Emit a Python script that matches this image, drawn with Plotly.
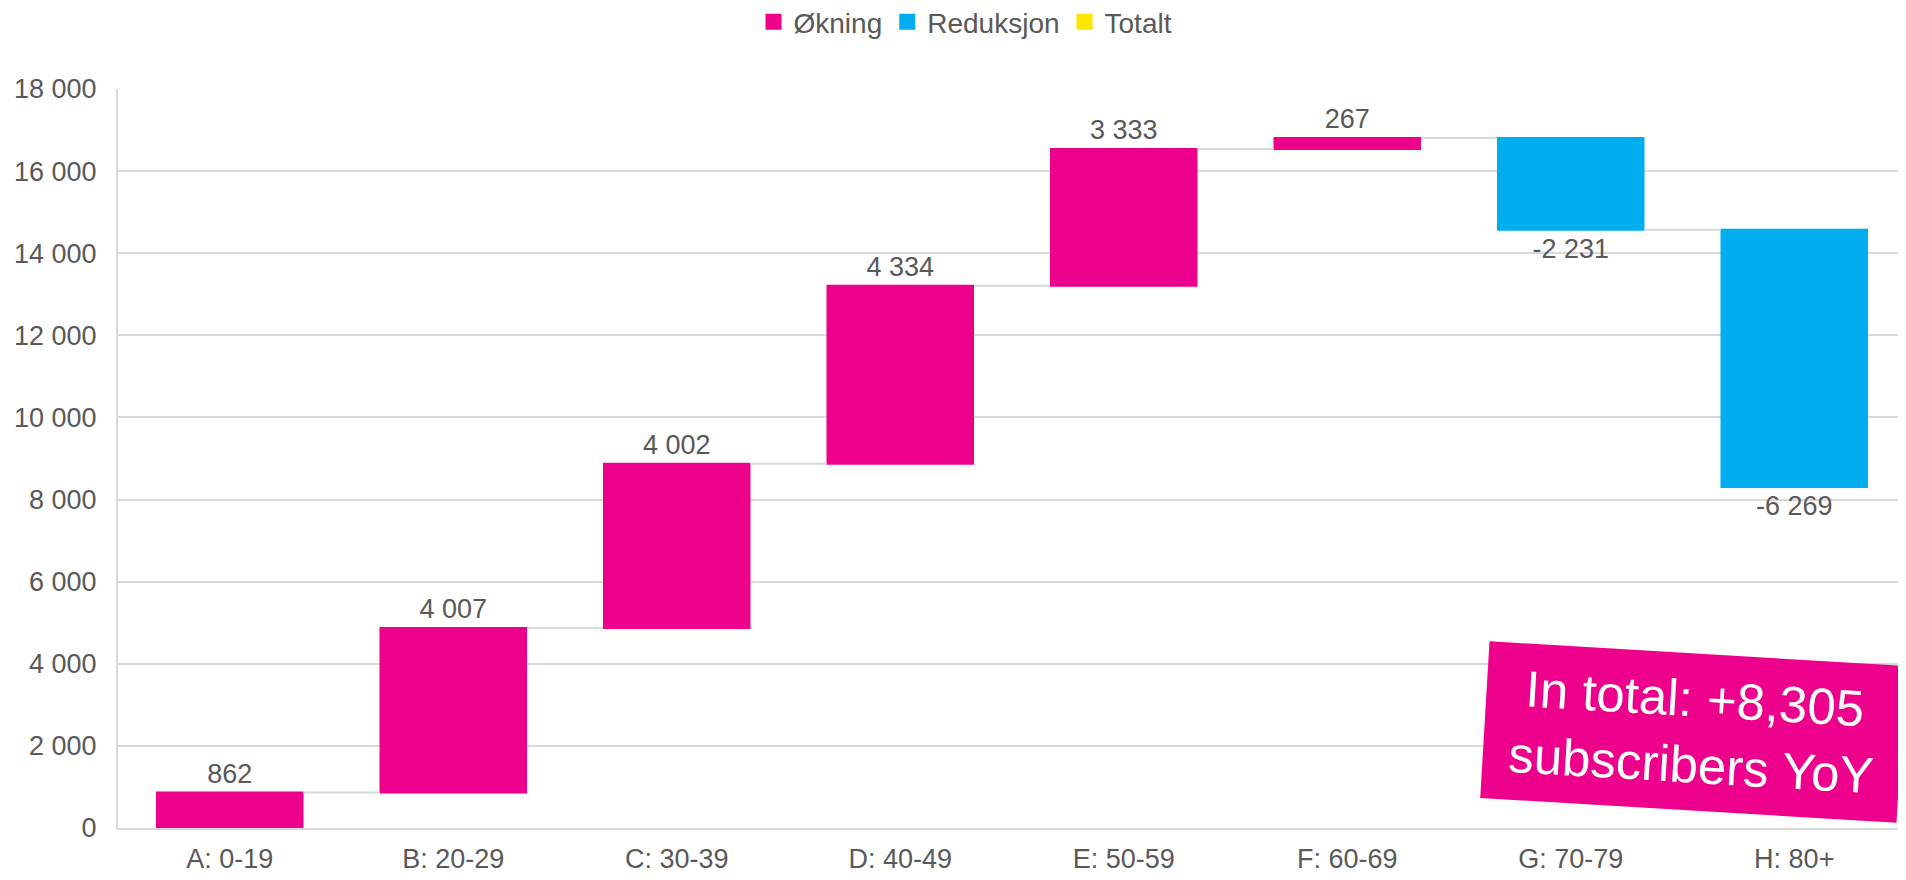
import plotly.graph_objects as go

# age groups and year-over-year change in subscribers
categories = ["A: 0-19", "B: 20-29", "C: 30-39", "D: 40-49",
              "E: 50-59", "F: 60-69", "G: 70-79", "H: 80+"]
changes = [862, 4007, 4002, 4334, 3333, 267, -2231, -6269]

legend_names = ["Økning", "Reduksjon", "Totalt"]
y_ticks = [0, 2000, 4000, 6000, 8000, 10000, 12000, 14000, 16000, 18000]
total_note = "In total: +8,305<br>subscribers YoY"

PINK = "#EC008C"
CYAN = "#00AEEF"
YELLOW = "#FFE600"
GRID = "#D9D9D9"
TEXT = "#595959"
FONT = "Liberation Sans, Arial, sans-serif"

labels = [f"{v:,}".replace(",", " ") for v in changes]

fig = go.Figure()
fig.add_trace(go.Waterfall(
    x=categories,
    y=changes,
    measure=["relative"] * len(changes),
    text=labels,
    textposition="outside",
    textfont=dict(size=27, color=TEXT, family=FONT),
    increasing=dict(marker=dict(color=PINK)),
    decreasing=dict(marker=dict(color=CYAN)),
    totals=dict(marker=dict(color=YELLOW)),
    connector=dict(mode="between", line=dict(color=GRID, width=2)),
    showlegend=False,
    cliponaxis=False,
))

# legend entries only
for name, col in zip(legend_names, [PINK, CYAN, YELLOW]):
    fig.add_trace(go.Scatter(
        x=[None], y=[None], mode="markers", name=name,
        marker=dict(symbol="square", size=20, color=col),
    ))

fig.add_annotation(
    text=total_note,
    xref="paper", yref="paper", x=0.881, y=0.13,
    xanchor="center", yanchor="middle",
    showarrow=False, textangle=3.4,
    font=dict(size=51, color="white", family=FONT),
    bgcolor=PINK, width=392, height=132, borderpad=12,
)

# the page body adds an 8px margin, so the figure is 8px smaller
fig.update_layout(
    width=1898, height=872,
    paper_bgcolor="white", plot_bgcolor="white",
    font=dict(family=FONT, size=27, color=TEXT),
    separators=", ",
    waterfallgap=0.34,
    margin=dict(l=110, r=0, t=81, b=52),
    legend=dict(
        orientation="h", xref="paper", yref="container",
        x=0.474, y=0.984, xanchor="center", yanchor="middle",
        font=dict(size=28, color=TEXT), itemwidth=30,
    ),
    xaxis=dict(
        type="category", showgrid=False, showline=True,
        linecolor=GRID, linewidth=2, ticks="", ticklabelstandoff=6,
    ),
    yaxis=dict(
        range=[0, 18000], tickvals=y_ticks, tickformat=",.0f",
        showgrid=True, gridcolor=GRID, gridwidth=2,
        showline=True, linecolor=GRID, linewidth=2,
        zeroline=False, ticks="", ticklabelstandoff=14,
    ),
)

fig.write_html("out.html")
